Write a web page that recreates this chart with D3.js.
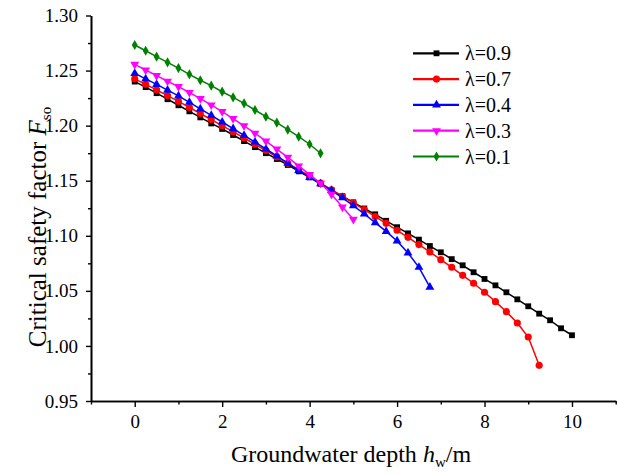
<!DOCTYPE html>
<html>
<head>
<meta charset="utf-8">
<script src="https://cdn.jsdelivr.net/npm/d3@7"></script>
<style>
  html, body { margin: 0; padding: 0; background: #fff; }
  svg { display: block; }
  text { font-family: "Liberation Serif", "Times New Roman", serif; }
</style>
</head>
<body>
<svg id="chart" width="618" height="474"></svg>
<script>
// ---------- data ----------
const seriesNames = ["λ=0.9", "λ=0.7", "λ=0.4", "λ=0.3", "λ=0.1"];
const depthStep = 0.25;

const lambda09 = [1.240, 1.235, 1.2295, 1.224, 1.2185, 1.213, 1.2075, 1.202, 1.197, 1.1915,
  1.186, 1.1805, 1.175, 1.1697, 1.1643, 1.1585, 1.153, 1.1472, 1.1415, 1.136,
  1.1304, 1.1248, 1.1195, 1.1136, 1.1078, 1.1022, 1.0965, 1.0907, 1.085, 1.0788,
  1.0732, 1.0669, 1.0608, 1.055, 1.0487, 1.0423, 1.036, 1.0293, 1.0233, 1.016, 1.0097];
const lambda07 = [1.2425, 1.2375, 1.2325, 1.2273, 1.222, 1.2165, 1.211, 1.2055, 1.200, 1.1945,
  1.1888, 1.1831, 1.1774, 1.1716, 1.1658, 1.160, 1.1541, 1.1478, 1.1418, 1.1358,
  1.1298, 1.1238, 1.1175, 1.1113, 1.105, 1.0986, 1.092, 1.0853, 1.0783, 1.0714,
  1.0641, 1.0569, 1.0487, 1.0402, 1.0311, 1.0208, 1.0081, 0.9824];
const lambda04 = [1.2475, 1.2424, 1.2374, 1.2322, 1.227, 1.2212, 1.2152, 1.2093, 1.2033, 1.1973,
  1.1912, 1.1851, 1.1788, 1.1725, 1.166, 1.1594, 1.153, 1.1472, 1.1412, 1.1345,
  1.1273, 1.1198, 1.1119, 1.104, 1.0953, 1.0844, 1.0714, 1.0533];
const lambda03 = [1.2557, 1.2505, 1.2454, 1.2403, 1.2354, 1.2301, 1.2246, 1.2188, 1.2127, 1.2064,
  1.1999, 1.1931, 1.186, 1.1787, 1.1712, 1.1634, 1.1556, 1.1477, 1.1377, 1.1261, 1.115];
const lambda01 = [1.2732, 1.268, 1.2626, 1.2575, 1.2523, 1.2466, 1.2412, 1.2363, 1.2308, 1.2257,
  1.2203, 1.2142, 1.2081, 1.2027, 1.1963, 1.190, 1.1831, 1.1749];

const xTicks = [0, 2, 4, 6, 8, 10];
const xMinorTicks = [-1, 1, 3, 5, 7, 9, 11];
const yTicks = [0.95, 1.00, 1.05, 1.10, 1.15, 1.20, 1.25, 1.30];
const yMinorTicks = [0.975, 1.025, 1.075, 1.125, 1.175, 1.225, 1.275];

// ---------- styles ----------
const colors = ["#000000", "#ff0000", "#0000ff", "#ff00ff", "#008000"];
const shapes = ["square", "circle", "triUp", "triDown", "diamond"];
const allSeries = [lambda09, lambda07, lambda04, lambda03, lambda01];

const svg = d3.select("#chart");
svg.append("rect").attr("width", 618).attr("height", 474).attr("fill", "#fff");

const x = d3.scaleLinear().domain([-1, 11]).range([91, 615.7]);
const y = d3.scaleLinear().domain([0.95, 1.30]).range([401, 15.5]);

function symbolPath(shape) {
  switch (shape) {
    case "square": return d3.symbol(d3.symbolSquare, 34)();
    case "circle": return d3.symbol(d3.symbolCircle, 40)();
    case "triUp": return d3.symbol(d3.symbolTriangle, 34)();
    case "triDown": return d3.symbol(d3.symbolTriangle, 34)();
    case "diamond": return d3.symbol(d3.symbolDiamond, 30)();
  }
}
function symbolRot(shape) { return shape === "triDown" ? " rotate(180)" : ""; }

// ---------- axes ----------
const fmt = d3.format(".2f");
svg.append("g").attr("transform", `translate(0,${y(0.95)})`)
  .call(d3.axisBottom(x).tickValues(xTicks).tickSize(6).tickSizeOuter(0).tickPadding(8).tickFormat(d3.format("d")));
svg.append("g").attr("transform", `translate(0,${y(0.95)})`)
  .call(d3.axisBottom(x).tickValues(xMinorTicks).tickSize(3.5).tickSizeOuter(0).tickFormat(""));
svg.append("g").attr("transform", `translate(${x(-1)},0)`)
  .call(d3.axisLeft(y).tickValues(yTicks).tickSize(5).tickSizeOuter(0).tickPadding(8).tickFormat(fmt));
svg.append("g").attr("transform", `translate(${x(-1)},0)`)
  .call(d3.axisLeft(y).tickValues(yMinorTicks).tickSize(3).tickSizeOuter(0).tickFormat(""));

svg.selectAll(".domain").attr("stroke", "#000").attr("stroke-width", 1.6);
svg.selectAll(".tick line").attr("stroke", "#000").attr("stroke-width", 1.4);
svg.selectAll(".tick text").attr("fill", "#000").style("font-size", "19px")
  .style("font-family", "'Liberation Serif', 'Times New Roman', serif");

// ---------- axis titles ----------
const xt = svg.append("text").attr("x", 351).attr("y", 462).attr("text-anchor", "middle")
  .style("font-size", "24px").attr("fill", "#000");
xt.append("tspan").text("Groundwater depth ");
xt.append("tspan").attr("font-style", "italic").text("h");
xt.append("tspan").attr("dy", 5).style("font-size", "15px").text("w");
xt.append("tspan").attr("dy", -5).text("/m");

const yt = svg.append("text").attr("transform", "translate(46,227) rotate(-90)")
  .attr("text-anchor", "middle").style("font-size", "25px").attr("fill", "#000");
yt.append("tspan").text("Critical safety factor ");
yt.append("tspan").attr("font-style", "italic").text("F");
yt.append("tspan").attr("dy", 5).style("font-size", "15px").text("so");

// ---------- series ----------
const line = d3.line().x(d => x(d[0])).y(d => y(d[1]));
allSeries.forEach((vals, i) => {
  const pts = vals.map((v, j) => [j * depthStep, v]);
  const g = svg.append("g");
  g.append("path").datum(pts).attr("d", line).attr("fill", "none")
    .attr("stroke", colors[i]).attr("stroke-width", 1.5);
  g.selectAll("path.m").data(pts).join("path").attr("class", "m")
    .attr("d", symbolPath(shapes[i]))
    .attr("transform", d => `translate(${x(d[0])},${y(d[1])})${symbolRot(shapes[i])}`)
    .attr("fill", colors[i]);
});

// ---------- legend ----------
const lg = svg.append("g");
seriesNames.forEach((name, i) => {
  const yy = 53.3 + i * 25.8;
  lg.append("line").attr("x1", 413).attr("x2", 459).attr("y1", yy).attr("y2", yy)
    .attr("stroke", colors[i]).attr("stroke-width", 2.2);
  lg.append("path").attr("d", symbolPath(shapes[i]))
    .attr("transform", `translate(436.5,${yy})${symbolRot(shapes[i])}`).attr("fill", colors[i]);
  lg.append("text").attr("x", 465).attr("y", yy).attr("dy", "0.35em")
    .style("font-size", "20px").attr("fill", "#000").text(name);
});
</script>
</body>
</html>
